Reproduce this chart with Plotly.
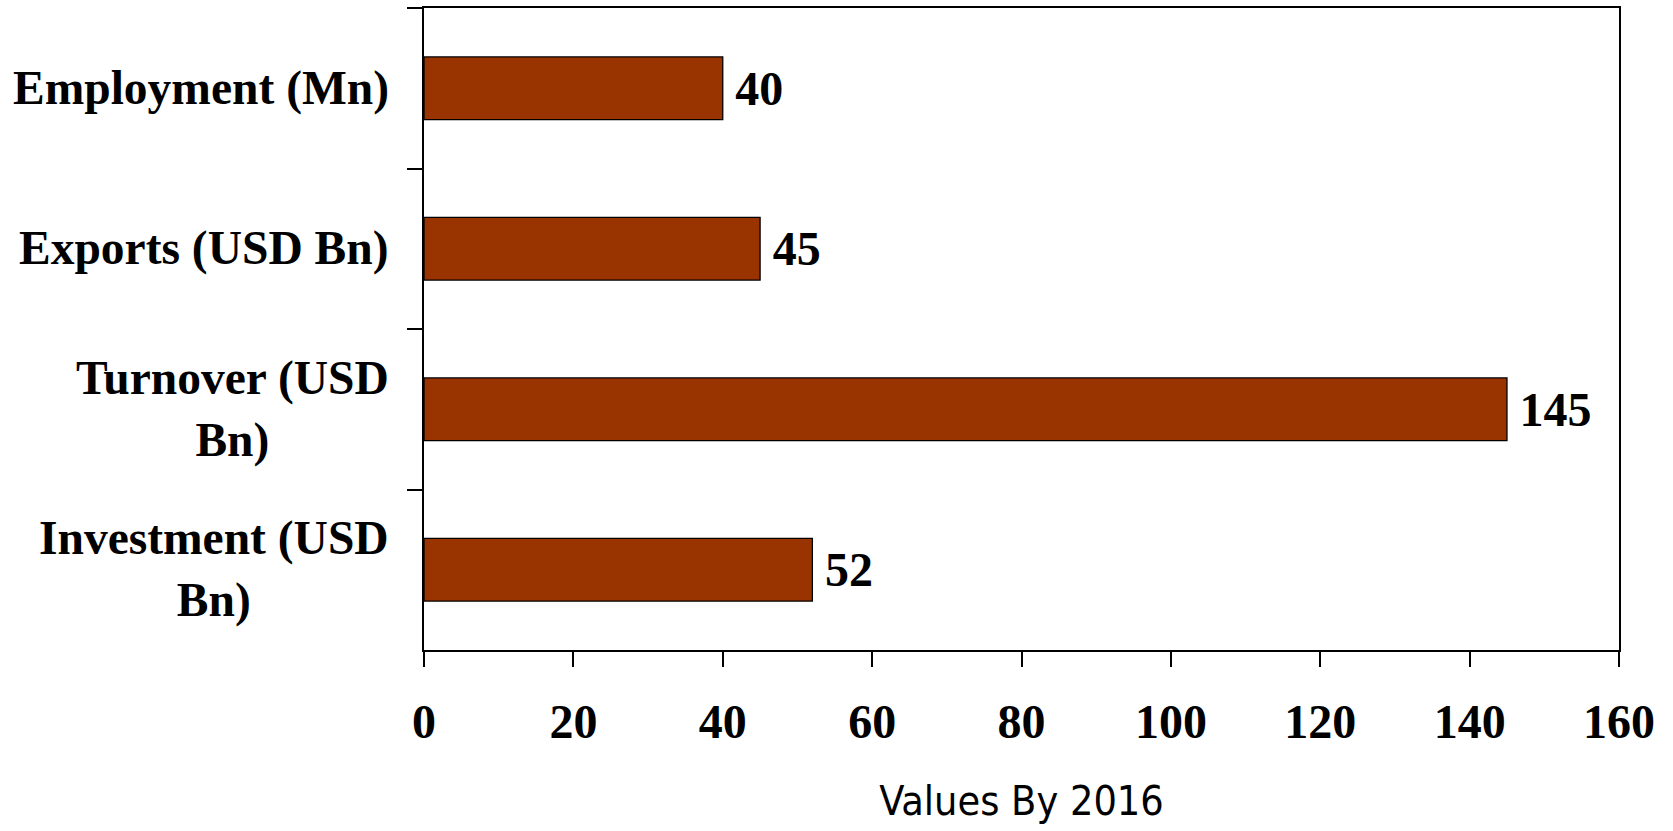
import plotly.graph_objects as go

# Indicator names, top to bottom, and their values by 2016
categories = ["Employment (Mn)", "Exports (USD Bn)", "Turnover (USD<br>Bn)", "Investment (USD<br>Bn)"]
values = [40, 45, 145, 52]
x_ticks = [0, 20, 40, 60, 80, 100, 120, 140, 160]

SERIF = "Liberation Serif, Times New Roman, serif"
value_font = dict(family=SERIF, size=48, color="black", weight="bold")
cat_font = dict(family=SERIF, size=47.5, color="black", weight="bold")

fig = go.Figure(
    go.Bar(
        x=values,
        y=categories,
        orientation="h",
        width=0.39,
        marker=dict(color="#993300", line=dict(color="black", width=1.3)),
        text=values,
        texttemplate="\u2009%{x}",
        textposition="outside",
        textfont=value_font,
        constraintext="none",
        cliponaxis=False,
    )
)

# Category labels drawn as centred multi-line text to the left of the axis
for cat in categories:
    fig.add_annotation(
        x=0, xref="paper", xshift=-33, xanchor="right",
        y=cat, yref="y", yanchor="middle",
        text=cat, showarrow=False, align="center",
        font=cat_font,
    )

fig.update_layout(
    width=1673,
    height=831,
    margin=dict(l=424, r=54, t=6, b=181),
    plot_bgcolor="white",
    paper_bgcolor="white",
    showlegend=False,
    xaxis=dict(
        range=[0, 160],
        tickvals=x_ticks,
        ticks="outside",
        ticklen=15,
        tickwidth=1.5,
        tickcolor="black",
        showline=True,
        linecolor="black",
        linewidth=2,
        mirror=True,
        showgrid=False,
        zeroline=False,
        tickfont=value_font,
        ticklabelstandoff=13,
        title=dict(
            text="Values By 2016",
            font=dict(family="DejaVu Sans Condensed, Liberation Sans Narrow, Arial Narrow, sans-serif",
                      size=41, color="black"),
            standoff=40,
        ),
    ),
    yaxis=dict(
        categoryorder="array",
        categoryarray=categories,
        autorange="reversed",
        tickson="boundaries",
        ticks="outside",
        ticklen=15,
        tickwidth=1.5,
        tickcolor="black",
        showticklabels=False,
        showline=True,
        linecolor="black",
        linewidth=2,
        mirror=True,
        showgrid=False,
        zeroline=False,
    ),
)

fig.write_html("out.html")
